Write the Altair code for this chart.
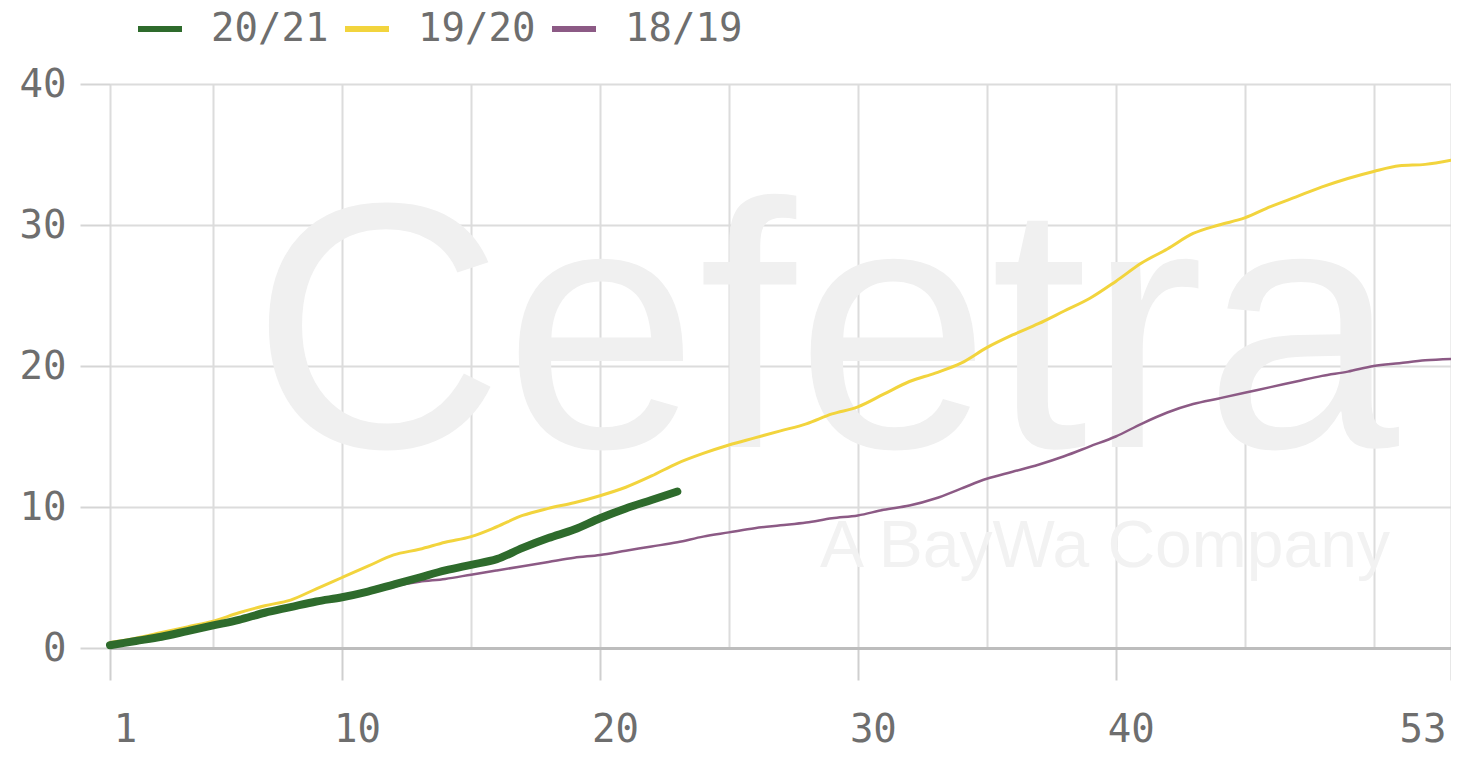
import altair as alt
import pandas as pd

weeks = list(range(1, 54))

s2021 = [0.2, 0.5, 0.8, 1.2, 1.6, 2.0, 2.5, 2.9, 3.3, 3.6, 4.0, 4.5, 5.0, 5.5, 5.9,
         6.3, 7.1, 7.8, 8.4, 9.2, 9.9, 10.5, 11.1]

s1920 = [0.4, 0.7, 1.1, 1.5, 1.9, 2.5, 3.0, 3.4, 4.2, 5.0, 5.8, 6.6, 7.0, 7.5, 7.9,
         8.6, 9.4, 9.9, 10.3, 10.8, 11.4, 12.2, 13.1, 13.8, 14.4, 14.9, 15.4, 15.9,
         16.6, 17.1, 18.0, 18.9, 19.5, 20.2, 21.3, 22.2, 23.0, 23.9, 24.8, 26.0,
         27.3, 28.3, 29.4, 30.0, 30.5, 31.3, 32.0, 32.7, 33.3, 33.8, 34.2, 34.3, 34.6]

s1819 = [0.1, 0.4, 0.8, 1.2, 1.5, 1.9, 2.4, 2.9, 3.3, 3.6, 4.0, 4.4, 4.7, 4.9, 5.2,
         5.5, 5.8, 6.1, 6.4, 6.6, 6.9, 7.2, 7.5, 7.9, 8.2, 8.5, 8.7, 8.9, 9.2, 9.4,
         9.8, 10.1, 10.6, 11.3, 12.0, 12.5, 13.0, 13.6, 14.3, 15.0, 15.9, 16.7, 17.3,
         17.7, 18.1, 18.5, 18.9, 19.3, 19.6, 20.0, 20.2, 20.4, 20.5]

series_names = ["20/21", "19/20", "18/19"]
series_colors = ["#2e6b2c", "#f2d43d", "#8c5a85"]
series_widths = {"20/21": 8, "19/20": 3, "18/19": 2.5}

x_grid_values = [1, 5, 10, 15, 20, 25, 30, 35, 40, 45, 50, 53]
x_label_values = [1, 10, 20, 30, 40, 53]
y_values = [0, 10, 20, 30, 40]

rows = []
for name, vals in [("18/19", s1819), ("19/20", s1920), ("20/21", s2021)]:
    for w, v in zip(weeks, vals):
        rows.append({"week": w, "value": v, "season": name})
df = pd.DataFrame(rows)

label_list = "[" + ",".join(str(v) for v in x_label_values) + "]"
FONT = "DejaVu Sans Mono"
TXT = "#6e6e6e"

x_axis = alt.Axis(
    values=x_grid_values,
    title=None,
    grid=True,
    gridColor="#dcdcdc",
    gridWidth=2,
    domain=True,
    domainColor="#bdbdbd",
    domainWidth=3,
    ticks=True,
    tickSize=32,
    tickWidth=2,
    tickColor="#cfcfcf",
    tickOpacity={"condition": {"test": f"indexof({label_list}, datum.value) < 0", "value": 0}, "value": 1},
    labelExpr=f"indexof({label_list}, datum.value) >= 0 ? datum.label : ''",
    labelFont=FONT,
    labelFontSize=39,
    labelColor=TXT,
    labelPadding=30,
    labelFlush=False,
    labelOverlap=False,
    labelBound=False,
    labelAlign={"condition": {"test": "datum.value == 53", "value": "right"}, "value": "center"},
    labelOffset={"condition": {"test": "datum.value == 53", "value": -5}, "value": 15},
)

y_axis = alt.Axis(
    values=y_values,
    title=None,
    grid=True,
    gridColor="#dcdcdc",
    gridWidth=2,
    domain=False,
    ticks=True,
    tickSize=30,
    tickWidth=2,
    tickColor="#d5d5d5",
    labelFont=FONT,
    labelFontSize=39,
    labelColor=TXT,
    labelPadding=14,
)

x_enc = alt.X("week:Q", scale=alt.Scale(domain=[1, 53], nice=False, zero=False), axis=x_axis)
y_enc = alt.Y("value:Q", scale=alt.Scale(domain=[0, 40], nice=False), axis=y_axis)
color_enc = alt.Color(
    "season:N",
    scale=alt.Scale(domain=series_names, range=series_colors),
    legend=alt.Legend(
        title=None,
        orient="none",
        direction="horizontal",
        legendX=25,
        legendY=-80,
        symbolType="stroke",
        symbolSize=1936,
        symbolStrokeWidth=6,
        labelFont=FONT,
        labelFontSize=39,
        labelColor=TXT,
        labelOffset=26,
        columnPadding=4,
    ),
)

line_layers = []
for name in ["18/19", "19/20", "20/21"]:
    line_layers.append(
        alt.Chart(df)
        .transform_filter(alt.datum.season == name)
        .mark_line(interpolate="monotone", strokeCap="round", strokeJoin="round",
                   strokeWidth=series_widths[name])
        .encode(x=x_enc, y=y_enc, color=color_enc)
    )

wm1 = alt.Chart(pd.DataFrame({"t": ["Cefetra"]})).mark_text(
    font="Liberation Sans", fontSize=350, color="#f0f0f0",
    align="center", baseline="alphabetic"
).encode(x=alt.value(715), y=alt.value(363), text="t:N")

wm2 = alt.Chart(pd.DataFrame({"t": ["A BayWa Company"]})).mark_text(
    font="Liberation Sans", fontSize=66, color="#f2f2f2",
    align="center", baseline="alphabetic"
).encode(x=alt.value(995), y=alt.value(483), text="t:N")

chart = alt.layer(wm1, wm2, *line_layers).properties(
    width=1341,
    height=564,
    autosize=alt.AutoSizeParams(type="none"),
    padding={"left": 102, "top": 76, "right": 0, "bottom": 100},
).configure_view(stroke=None).configure(background="white")

chart.save("out.html", embed_options={"renderer": "svg", "actions": False})
